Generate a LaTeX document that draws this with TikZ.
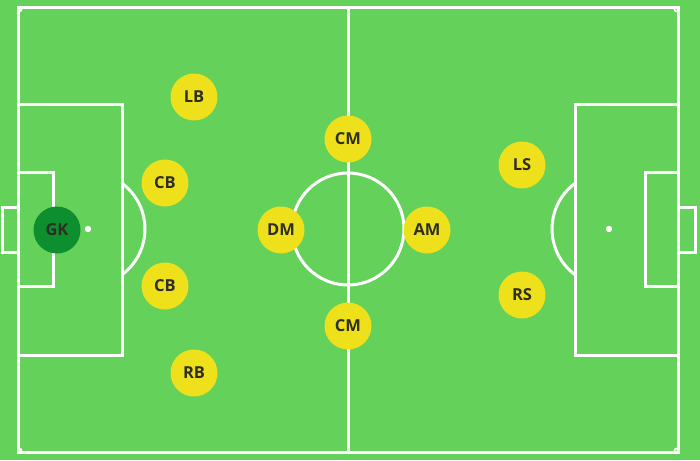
\documentclass[tikz,border=0pt]{standalone}
\usepackage{fontspec}
\setmainfont{Open Sans}
\usepackage{tikz}

\definecolor{pitch}{HTML}{63D15A}
\definecolor{shirt}{HTML}{EEE11B}
\definecolor{keeper}{HTML}{0E8F2F}
\definecolor{ink}{HTML}{2E2E22}

\begin{document}
\begin{tikzpicture}[x=1pt, y=-1pt,
    line/.style={draw=white, line width=3pt},
    player/.style={circle, fill=shirt, minimum size=47pt, inner sep=0pt, text=ink, font=\bfseries\fontsize{16.5}{16.5}\selectfont},
    keeper/.style={player, fill=keeper}]

    % pitch
    \fill[pitch] (0,0) rectangle (700,460);
    \useasboundingbox (0,0) rectangle (700,460);

    \draw[line] (18,8) rectangle (678,452);
    \draw[line] (348,8) -- (348,452);
    \draw[line] (348,229) circle[radius=56];

    % left end
    \draw[line] (18,104) rectangle (122,355);
    \draw[line] (18,172) rectangle (53,286);
    \draw[line] (2,207) rectangle (18,252);
    \fill[white] (88,229) circle[radius=3.2];

    % right end
    \draw[line] (575,104) rectangle (678,355);
    \draw[line] (645,172) rectangle (678,286);
    \draw[line] (678,207) rectangle (695,252);
    \fill[white] (609,229) circle[radius=3.2];

    % arcs
    \begin{scope}
        \clip (122,0) rectangle (200,460);
        \draw[line] (88,229) circle[radius=57];
    \end{scope}
    \begin{scope}
        \clip (500,0) rectangle (575,460);
        \draw[line] (609,229) circle[radius=57];
    \end{scope}
    \begin{scope}
        \clip (18,8) rectangle (678,452);
        \draw[line, line width=1.8pt] (18,8) circle[radius=4];
        \draw[line, line width=1.8pt] (678,8) circle[radius=4];
        \draw[line, line width=1.8pt] (18,452) circle[radius=4];
        \draw[line, line width=1.8pt] (678,452) circle[radius=4];
    \end{scope}

    % players
    \node[keeper] (gk) at (57,230) {GK};

    \node[player] (lb) at (194,97) {LB};
    \node[player] (cbl) at (165,183) {CB};
    \node[player] (cbr) at (165,286) {CB};
    \node[player] (rb) at (194,373) {RB};

    \node[player] (cmt) at (348,139) {CM};
    \node[player] (dm) at (281,230) {DM};
    \node[player] (am) at (427,230) {AM};
    \node[player] (cmb) at (348,326) {CM};

    \node[player] (ls) at (522,165) {LS};
    \node[player] (rs) at (522,295) {RS};

\end{tikzpicture}
\end{document}
